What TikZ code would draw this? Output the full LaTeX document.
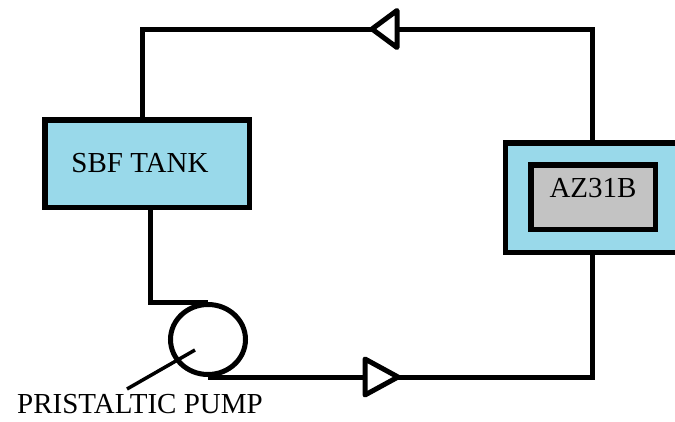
\documentclass[tikz,border=0pt]{standalone}
\usepackage{fontspec}
\setmainfont{Liberation Serif}
\usetikzlibrary{shapes.geometric}
\definecolor{tankblue}{HTML}{99D9EA}
\definecolor{metalgrey}{HTML}{C3C3C3}
\begin{document}
\begin{tikzpicture}[x=1pt,y=-1pt,
  box/.style={draw, line width=5.5pt, rectangle, inner sep=0pt, font=\fontsize{29}{32}\selectfont},
  pipe/.style={line width=5pt},
  flowtri/.style={draw, line width=5pt, fill=white, line join=round},
  lbl/.style={font=\fontsize{29}{32}\selectfont, inner sep=0pt}]
\useasboundingbox (0,0) rectangle (675,421);
\clip (0,0) rectangle (675,421);
\node[box, fill=tankblue, minimum width=204.5pt, minimum height=87.5pt] (tank) at (147,163.5) {\hspace*{-14pt}SBF TANK};
\node[box, fill=tankblue, minimum width=190pt, minimum height=109.5pt, anchor=west] (cell) at (502.75,197.5) {};
\node[box, fill=metalgrey, minimum width=124.5pt, minimum height=64.5pt, text depth=19pt] (az) at (593,197) {AZ31B};
\node[draw, pipe, ellipse, minimum width=75pt, minimum height=70pt, inner sep=0pt] (pump) at (208,339.5) {};
\node[lbl] (plabel) at (140,404.5) {PRISTALTIC PUMP};
\coordinate (tl) at (142,29);
\coordinate (tr) at (592,29);
\coordinate (bend) at (150,0);
\coordinate (ptr) at (195,350);
\coordinate (ptrend) at (127,389);
\draw[pipe] (tank.north -| tl) -- (tl) -- (tr) -- (cell.north -| tr);
\draw[pipe] (tank.south -| bend) |- (pump.north);
\draw[pipe] (pump.south) -| (cell.south -| tr);
\draw[flowtri] (372,29) -- (397,10.5) -- (397,47.5) -- cycle;
\draw[flowtri] (398,377) -- (365,359) -- (365,395) -- cycle;
\draw[line width=3.5pt] (ptr) -- (ptrend);
\end{tikzpicture}
\end{document}
